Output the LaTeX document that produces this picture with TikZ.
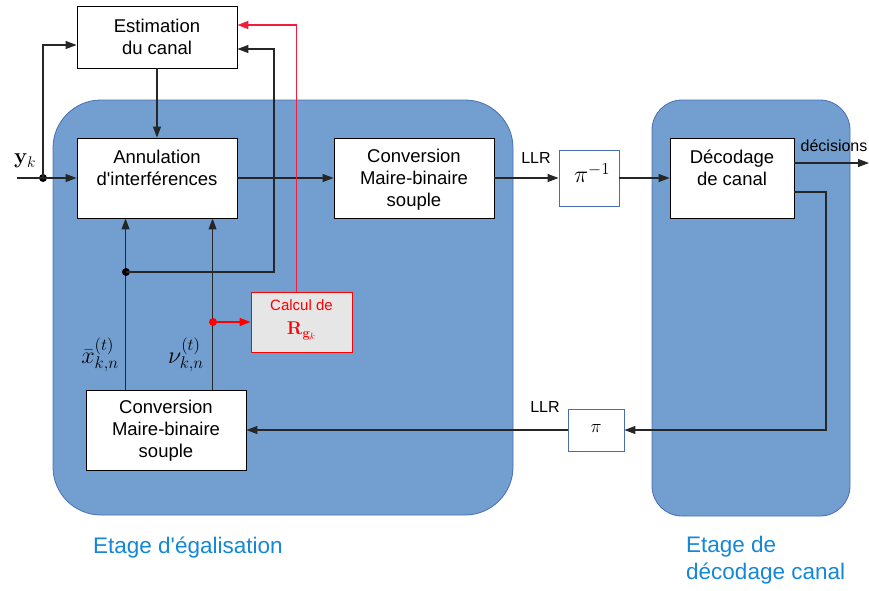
\RequirePackage{fix-cm}
\documentclass[tikz,border=0pt]{standalone}
\usepackage[no-math]{fontspec}
\setmainfont{Liberation Sans}[Ligatures=TeXOff]
\usetikzlibrary{arrows.meta,calc}
\definecolor{stage}{RGB}{114,159,207}
\definecolor{stageb}{RGB}{70,110,180}
\definecolor{lbl}{RGB}{20,135,215}
\definecolor{calcfill}{RGB}{230,230,230}
\definecolor{redline}{RGB}{240,30,60}
\begin{document}
\begin{tikzpicture}[x=1pt,y=-1pt,
 box/.style={draw=black,fill=white,line width=0.9pt,inner sep=0pt},
 txt/.style={font=\fontsize{18.5}{22}\selectfont,align=center,inner sep=0pt},
 mth/.style={font=\fontsize{24}{28}\selectfont,inner sep=0pt},
 small/.style={font=\fontsize{16}{19}\selectfont,inner sep=0pt},
 conn/.style={line width=1.1pt,draw=black!85},
 arr/.style={conn,-{Triangle[length=11pt,width=8pt]}},
 dotn/.style={circle,fill=black,inner sep=0pt,minimum size=8pt},
 stagebox/.style={fill=stage,draw=stageb,line width=0.8pt},
 stagelbl/.style={font=\fontsize{22.5}{27}\selectfont,text=lbl,inner sep=0pt}]
\useasboundingbox (0,0) rectangle (869,590);

% stages
\path[stagebox, rounded corners=48pt] (53,100) rectangle (513,515);
\path[stagebox, rounded corners=30pt] (652,100) rectangle (850,516);

% boxes
\node[box,minimum width=160pt,minimum height=62pt] (est) at (157,37) {};
\node[txt] (estt) at (157,37) {Estimation\\du canal};
\node[box,minimum width=160pt,minimum height=80pt] (ann) at (157,178) {};
\node[txt] (annt) at (157,168) {Annulation\\d'interférences};
\node[box,minimum width=160pt,minimum height=80pt] (conv) at (414,178) {};
\node[txt] (convt) at (414,180) {Conversion\\Maire-binaire\\souple};
\node[box,minimum width=160pt,minimum height=80pt] (convb) at (166,430) {};
\node[txt] (convbt) at (166,431) {Conversion\\Maire-binaire\\souple};
\node[box,minimum width=124pt,minimum height=80pt] (dec) at (732,178) {};
\node[txt] (dect) at (732,168) {Décodage\\de canal};
\node[box,draw=stageb,minimum width=60pt,minimum height=56pt] (pim) at (589,178) {};
\node[mth] (pimt) at (592,173) {$\pi^{-1}$};
\node[box,draw=stageb,minimum width=56pt,minimum height=42pt] (pib) at (596,430) {};
\node[txt] (pibt) at (596,429) {$\pi$};
\node[box,draw=red,fill=calcfill,minimum width=101pt,minimum height=60pt] (calc) at (301.5,322) {};
\node[txt,text=red] (calct) at (301.5,320) {{\fontsize{15}{18}\selectfont Calcul de}\\[2pt]$\mathbf{R}_{\mathbf{g}_k}$};

% input
\coordinate (yin) at (17,178);
\node[dotn] (yd) at (43,178) {};
\node[font=\fontsize{22}{26}\selectfont,inner sep=0pt] (yl) at (25,161) {$\mathbf{y}_k$};
\draw[arr] (yin) -- (ann.west);
\draw[arr] (yd.center) |- ($(est.west)+(0,8)$);
\draw[arr] (est.south) -- (ann.north);
\draw[arr] (ann.east) -- (conv.west);
\draw[arr] (conv.east) -- (pim.west);
\draw[arr] (pim.east) -- (dec.west);
\node[small] (llr1) at (536,158) {LLR};

% decisions
\coordinate (decout) at (869,163);
\draw[arr] ($(dec.east)+(0,-15)$) -- (decout);
\node[small] (decl) at (834,146) {décisions};

% feedback
\coordinate (fbc) at (826,430);
\draw[arr] ($(dec.east)+(0,14)$) -| (fbc) -- (pib.east);
\draw[arr] (pib.west) -- (convb.east);
\node[small] (llr2) at (545,407) {LLR};

% soft symbols up
\draw[arr] ($(convb.north west)+(40,0)$) -- ($(ann.south west)+(49,0)$);
\draw[arr] ($(convb.north west)+(127,0)$) -- ($(ann.south west)+(136,0)$);
\node[dotn] (xd) at (126,272) {};
\coordinate (fc) at (274,272);
\draw[arr] (xd.center) -- (fc) |- ($(est.east)+(0,12)$);
\node[mth] (xl) at (100,355) {$\bar{x}_{k,n}^{(t)}$};
\node[mth] (nl) at (186,355) {$\nu_{k,n}^{(t)}$};

% red path
\node[dotn,fill=red] (nd) at (213,322) {};
\draw[arr,draw=red,line width=1.6pt] (nd.center) -- (calc.west);
\draw[arr,draw=redline,line width=1.6pt] ($(calc.north west)+(46,0)$) |- ($(est.east)+(0,-12)$);

% stage labels
\node[stagelbl,anchor=west] (st1) at (93,548) {Etage d'égalisation};
\node[stagelbl,anchor=north west,align=left] (st2) at (686,536) {Etage de\\décodage canal};
\end{tikzpicture}
\end{document}
